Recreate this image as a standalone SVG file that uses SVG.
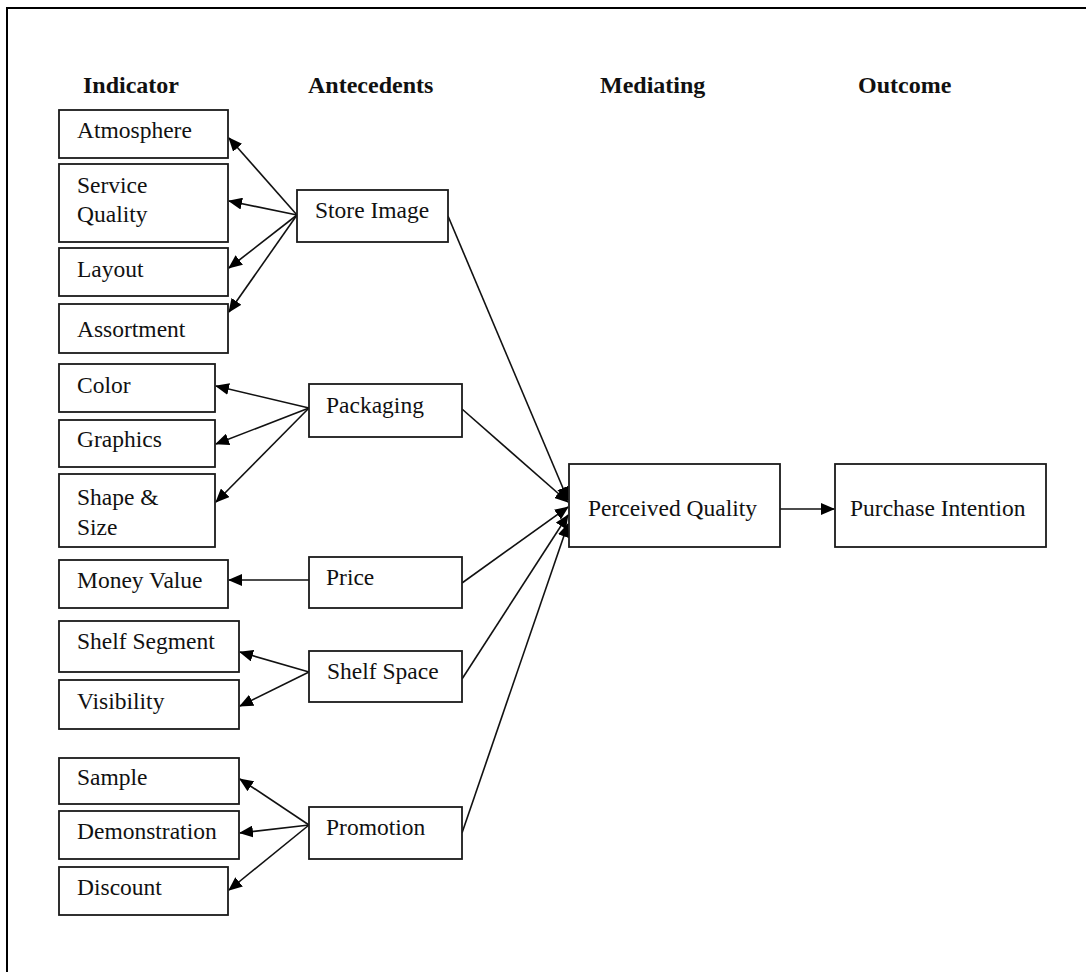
<svg xmlns="http://www.w3.org/2000/svg" width="1086" height="972" viewBox="0 0 1086 972">
<style>
.frame{fill:none;stroke:#000;stroke-width:2}
.box{fill:#fff;stroke:#1a1a1a;stroke-width:1.8}
.t{font-family:"Liberation Serif","Times New Roman",serif;font-size:23.5px;fill:#111}
.h{font-family:"Liberation Serif","Times New Roman",serif;font-size:24px;font-weight:bold;fill:#111}
.c{fill:none;stroke:#111;stroke-width:1.6;marker-end:url(#arr)}
</style>
<defs>
<marker id="arr" markerUnits="userSpaceOnUse" markerWidth="14" markerHeight="12" viewBox="0 0 14 12" refX="13" refY="6" orient="auto">
<path d="M0,0 L14,6 L0,12 Z" fill="#000"/>
</marker>
</defs>
<rect class="frame" x="7" y="8" width="1200" height="1100"/>
<g id="headers">
<text class="h" x="83" y="93">Indicator</text>
<text class="h" x="308" y="93">Antecedents</text>
<text class="h" x="600" y="93">Mediating</text>
<text class="h" x="858" y="93">Outcome</text>
</g>
<g id="connectors">
<line class="c" x1="297" y1="215" x2="229" y2="138"/>
<line class="c" x1="297" y1="215" x2="229" y2="201"/>
<line class="c" x1="297" y1="215" x2="229" y2="268"/>
<line class="c" x1="297" y1="215" x2="229" y2="312"/>
<line class="c" x1="309" y1="408" x2="216" y2="386"/>
<line class="c" x1="309" y1="408" x2="216" y2="444"/>
<line class="c" x1="309" y1="408" x2="216" y2="502"/>
<line class="c" x1="309" y1="580" x2="229" y2="580"/>
<line class="c" x1="309" y1="672" x2="240" y2="652"/>
<line class="c" x1="309" y1="672" x2="240" y2="706"/>
<line class="c" x1="309" y1="825" x2="240" y2="779"/>
<line class="c" x1="309" y1="825" x2="240" y2="833"/>
<line class="c" x1="309" y1="825" x2="229" y2="890"/>
<line class="c" x1="448" y1="216" x2="568" y2="500"/>
<line class="c" x1="462" y1="409" x2="568" y2="502"/>
<line class="c" x1="462" y1="583" x2="568" y2="507"/>
<line class="c" x1="462" y1="679" x2="568" y2="515"/>
<line class="c" x1="462" y1="833" x2="568" y2="524"/>
<line class="c" x1="780" y1="509" x2="834" y2="509"/>
</g>
<g id="atmosphere"><rect class="box" x="59" y="110" width="169" height="48"/><text class="t" x="77" y="138">Atmosphere</text></g>
<g id="service-quality"><rect class="box" x="59" y="164" width="169" height="78"/><text class="t" x="77" y="193">Service</text><text class="t" x="77" y="222">Quality</text></g>
<g id="layout"><rect class="box" x="59" y="248" width="169" height="48"/><text class="t" x="77" y="277">Layout</text></g>
<g id="assortment"><rect class="box" x="59" y="304" width="169" height="49"/><text class="t" x="77" y="337">Assortment</text></g>
<g id="color"><rect class="box" x="59" y="364" width="156" height="48"/><text class="t" x="77" y="393">Color</text></g>
<g id="graphics"><rect class="box" x="59" y="420" width="156" height="47"/><text class="t" x="77" y="447">Graphics</text></g>
<g id="shape-size"><rect class="box" x="59" y="474" width="156" height="73"/><text class="t" x="77" y="505">Shape &amp;</text><text class="t" x="77" y="535">Size</text></g>
<g id="money-value"><rect class="box" x="59" y="560" width="169" height="48"/><text class="t" x="77" y="588">Money Value</text></g>
<g id="shelf-segment"><rect class="box" x="59" y="621" width="180" height="51"/><text class="t" x="77" y="649">Shelf Segment</text></g>
<g id="visibility"><rect class="box" x="59" y="680" width="180" height="49"/><text class="t" x="77" y="709">Visibility</text></g>
<g id="sample"><rect class="box" x="59" y="758" width="180" height="46"/><text class="t" x="77" y="785">Sample</text></g>
<g id="demonstration"><rect class="box" x="59" y="811" width="180" height="48"/><text class="t" x="77" y="839">Demonstration</text></g>
<g id="discount"><rect class="box" x="59" y="867" width="169" height="48"/><text class="t" x="77" y="895">Discount</text></g>
<g id="store-image"><rect class="box" x="297" y="190" width="151" height="52"/><text class="t" x="315" y="218">Store Image</text></g>
<g id="packaging"><rect class="box" x="309" y="384" width="153" height="53"/><text class="t" x="326" y="413">Packaging</text></g>
<g id="price"><rect class="box" x="309" y="557" width="153" height="51"/><text class="t" x="326" y="585">Price</text></g>
<g id="shelf-space"><rect class="box" x="309" y="651" width="153" height="51"/><text class="t" x="327" y="679">Shelf Space</text></g>
<g id="promotion"><rect class="box" x="309" y="807" width="153" height="52"/><text class="t" x="326" y="835">Promotion</text></g>
<g id="perceived-quality"><rect class="box" x="569" y="464" width="211" height="83"/><text class="t" x="588" y="516">Perceived Quality</text></g>
<g id="purchase-intention"><rect class="box" x="835" y="464" width="211" height="83"/><text class="t" x="850" y="516">Purchase Intention</text></g>
</svg>
